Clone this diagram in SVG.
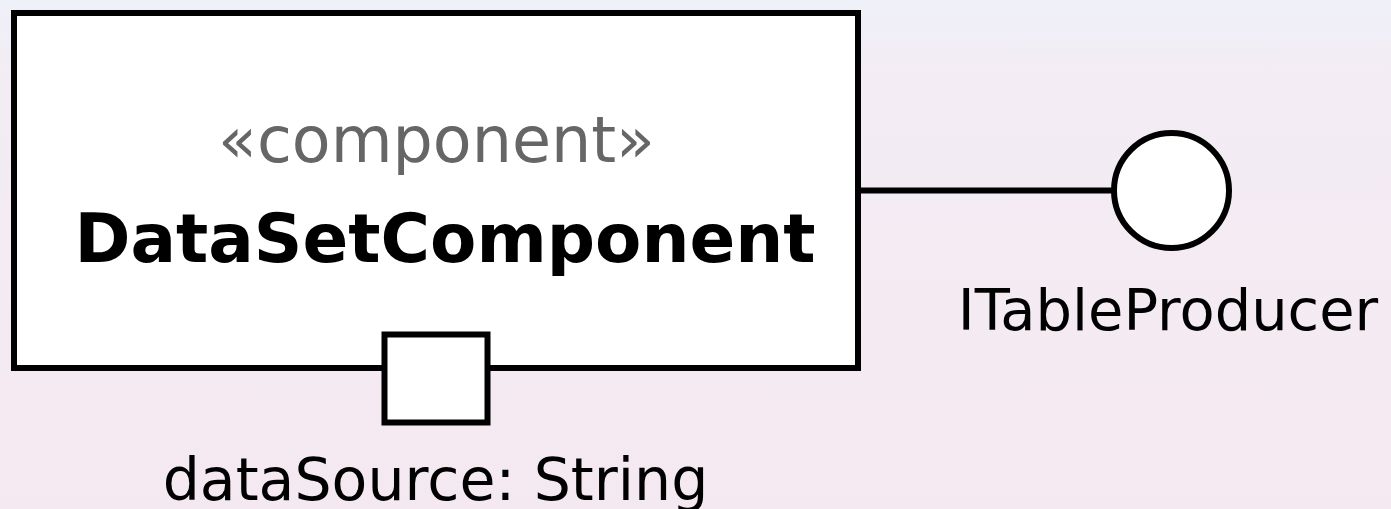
<svg xmlns="http://www.w3.org/2000/svg" width="1391" height="509" viewBox="0 0 1391 509">
<style>
.shape{fill:#fff;stroke:#000;stroke-width:6}
.edge{stroke:#000;stroke-width:6;fill:none}
.t{font-family:"DejaVu Sans",sans-serif;font-size:58px;fill:#000}
</style>
<defs>
<linearGradient id="bg" x1="0" y1="0" x2="0" y2="1">
<stop offset="0" stop-color="#eef0f8"/>
<stop offset="0.15" stop-color="#f3ecf4"/>
<stop offset="1" stop-color="#f5e9f1"/>
</linearGradient>
</defs>
<rect x="0" y="0" width="1391" height="509" fill="url(#bg)"/>
<g id="connectors">
<line class="edge" x1="858" y1="190.5" x2="1114" y2="190.5"/>
</g>
<g id="DataSetComponent">
<rect class="shape" x="14" y="13" width="844" height="355"/>
<text x="436.5" y="162" text-anchor="middle" class="t" style="fill:#666;font-size:63.5px">«component»</text>
<text x="445" y="262" text-anchor="middle" class="t" style="font-weight:bold;font-size:67.5px">DataSetComponent</text>
</g>
<g id="dataSource">
<rect class="shape" x="384.5" y="334.5" width="103" height="88"/>
<text x="435.5" y="500" text-anchor="middle" class="t" style="font-size:58.5px">dataSource: String</text>
</g>
<g id="ITableProducer">
<circle class="shape" cx="1171.5" cy="190.5" r="57.5"/>
<text x="1168" y="330" text-anchor="middle" class="t" style="font-size:57.5px">ITableProducer</text>
</g>
</svg>
